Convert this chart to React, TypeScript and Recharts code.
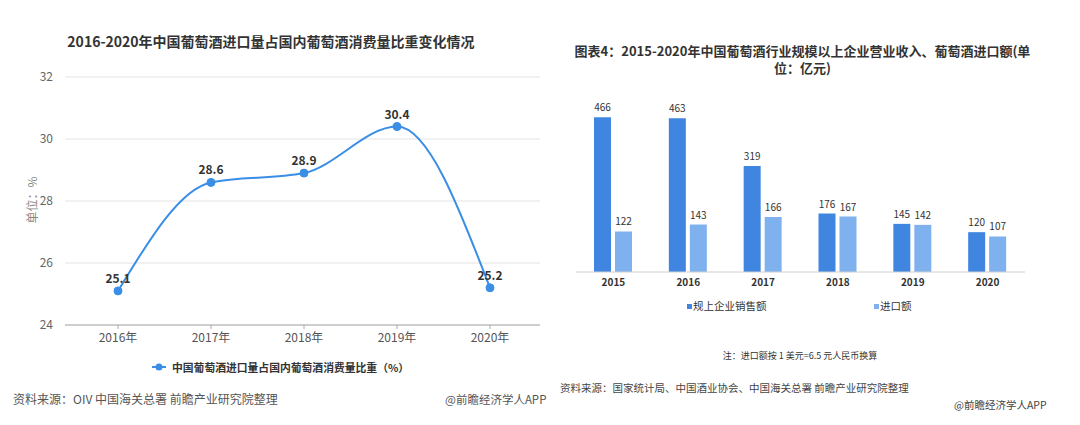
import React from 'react';
import { LineChart, Line, BarChart, Bar, XAxis, YAxis, CartesianGrid, LabelList } from 'recharts';

const lineYears = ['2016年', '2017年', '2018年', '2019年', '2020年'];
const importShare = [25.1, 28.6, 28.9, 30.4, 25.2];
const shareTicks = [24, 26, 28, 30, 32];

const barYears = ['2015', '2016', '2017', '2018', '2019', '2020'];
const salesValues = [466, 463, 319, 176, 145, 120];
const importValues = [122, 143, 166, 167, 142, 107];

const lineData = lineYears.map((year, i) => ({ year, share: importShare[i] }));
const barData = barYears.map((year, i) => ({ year, sales: salesValues[i], imports: importValues[i] }));

const LINE_COLOR = '#3a8ee6';
const DARK_BAR = '#4086e0';
const LIGHT_BAR = '#7fb1ee';
const FONT = '"Noto Sans CJK SC", "Noto Sans", sans-serif';

const abs = (style: React.CSSProperties): React.CSSProperties => ({
  position: 'absolute',
  whiteSpace: 'nowrap',
  fontFamily: FONT,
  lineHeight: 1,
  ...style,
});

export default function App() {
  return (
    <div style={{ position: 'absolute', left: 0, top: 0, width: 1080, height: 425, background: '#fff', overflow: 'hidden', fontFamily: FONT }}>
      {/* Left chart */}
      <div style={abs({ left: 0, width: 542, top: 34, textAlign: 'center', fontSize: 14, fontWeight: 700, color: '#333' })}>
        2016-2020年中国葡萄酒进口量占国内葡萄酒消费量比重变化情况
      </div>
      <div style={{ position: 'absolute', left: 0, top: 0 }}>
        <LineChart width={540} height={425} data={lineData} margin={{ top: 77, right: 0, bottom: 70, left: 0 }}>
          <CartesianGrid vertical={false} stroke="#e3e3e3" />
          <XAxis
            dataKey="year"
            height={30}
            padding={{ left: 53, right: 50 }}
            axisLine={{ stroke: '#aaa' }}
            tickLine={{ stroke: '#aaa' }}
            tickSize={4}
            tickMargin={4}
            tick={{ fontSize: 12, fill: '#555', fontFamily: FONT }}
          />
          <YAxis
            width={65}
            domain={[24, 32]}
            ticks={shareTicks}
            axisLine={false}
            tickLine={false}
            tickMargin={6}
            tick={{ fontSize: 12, fill: '#666', fontFamily: FONT }}
          />
          <Line
            type="monotone"
            dataKey="share"
            stroke={LINE_COLOR}
            strokeWidth={2}
            dot={{ r: 4, fill: LINE_COLOR, stroke: LINE_COLOR, strokeWidth: 1 }}
            isAnimationActive={false}
          >
            <LabelList dataKey="share" position="top" offset={8} style={{ fontSize: 12, fontWeight: 700, fill: '#333', fontFamily: FONT }} />
          </Line>
        </LineChart>
      </div>
      <div style={abs({ left: 32, top: 200, fontSize: 12, color: '#888', transform: 'translate(-50%, -50%) rotate(-90deg)', transformOrigin: 'center' })}>
        单位：%
      </div>
      {/* Left legend */}
      <svg style={{ position: 'absolute', left: 150, top: 361 }} width={20} height={12}>
        <line x1={2} y1={6} x2={16} y2={6} stroke={LINE_COLOR} strokeWidth={2} />
        <circle cx={9} cy={6} r={3.5} fill={LINE_COLOR} />
      </svg>
      <div style={abs({ left: 172, top: 361.5, fontSize: 10.8, fontWeight: 700, color: '#333' })}>
        中国葡萄酒进口量占国内葡萄酒消费量比重（%）
      </div>
      <div style={abs({ left: 13, top: 393, fontSize: 12, color: '#555' })}>
        资料来源：OIV 中国海关总署 前瞻产业研究院整理
      </div>
      <div style={abs({ left: 445, top: 394, fontSize: 11.5, color: '#555' })}>
        @前瞻经济学人APP
      </div>

      {/* Right chart */}
      <div style={abs({ left: 560, width: 485, top: 42, textAlign: 'center', fontSize: 13, lineHeight: '17px', fontWeight: 700, color: '#333' })}>
        图表4：2015-2020年中国葡萄酒行业规模以上企业营业收入、葡萄酒进口额(单
        <br />
        位：亿元)
      </div>
      <div style={{ position: 'absolute', left: 560, top: 0 }}>
        <BarChart width={520} height={425} data={barData} margin={{ top: 106, right: 55, bottom: 133, left: 16 }} barGap={4}>
          <XAxis
            dataKey="year"
            height={20}
            axisLine={{ stroke: '#d0d0d0' }}
            tickLine={false}
            tickSize={0}
            tickMargin={7}
            tick={{ fontSize: 10, fontWeight: 700, fill: '#333', fontFamily: FONT }}
          />
          <YAxis hide domain={[0, 500]} />
          <Bar dataKey="sales" fill={DARK_BAR} barSize={17} isAnimationActive={false}>
            <LabelList dataKey="sales" position="top" offset={6} style={{ fontSize: 10, fill: '#333', fontFamily: FONT }} />
          </Bar>
          <Bar dataKey="imports" fill={LIGHT_BAR} barSize={17} isAnimationActive={false}>
            <LabelList dataKey="imports" position="top" offset={6} style={{ fontSize: 10, fill: '#333', fontFamily: FONT }} />
          </Bar>
        </BarChart>
      </div>
      {/* Right legend */}
      <div style={abs({ left: 687, top: 300.5, fontSize: 10.5, color: '#333' })}>
        <span style={{ display: 'inline-block', width: 5, height: 5, background: DARK_BAR, marginRight: 1, verticalAlign: 'middle' }} />
        规上企业销售额
      </div>
      <div style={abs({ left: 874, top: 300.5, fontSize: 10.5, color: '#333' })}>
        <span style={{ display: 'inline-block', width: 5, height: 5, background: LIGHT_BAR, marginRight: 1, verticalAlign: 'middle' }} />
        进口额
      </div>
      <div style={abs({ left: 560, width: 480, top: 351, textAlign: 'center', fontSize: 9, color: '#333' })}>
        注：进口额按 1 美元=6.5 元人民币换算
      </div>
      <div style={abs({ left: 560, top: 383, fontSize: 10.5, color: '#444' })}>
        资料来源：国家统计局、中国酒业协会、中国海关总署 前瞻产业研究院整理
      </div>
      <div style={abs({ left: 954, top: 400, fontSize: 10.5, color: '#444' })}>
        @前瞻经济学人APP
      </div>
    </div>
  );
}
